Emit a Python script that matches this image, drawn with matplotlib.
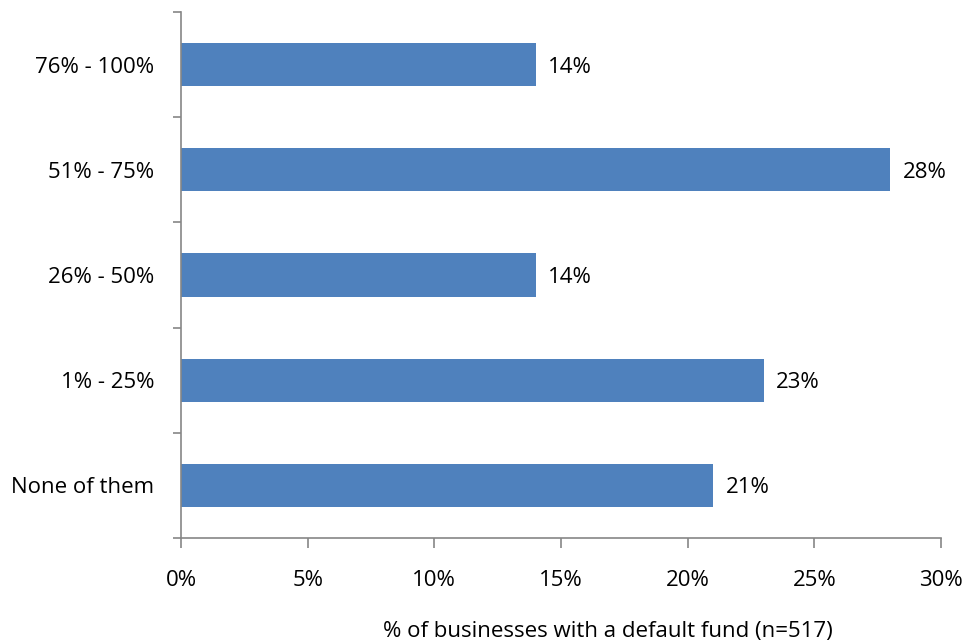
import matplotlib.pyplot as plt
from matplotlib.ticker import FixedLocator, PercentFormatter

# data (bottom to top)
categories = ["None of them", "1% - 25%", "26% - 50%", "51% - 75%", "76% - 100%"]
values = [21, 23, 14, 28, 14]

bar_color = "#4F81BD"
axis_color = "#868686"

plt.rcParams["font.family"] = ["Open Sans", "DejaVu Sans"]
fs = 16

fig = plt.figure(figsize=(9.7, 6.43), dpi=100)
ax = fig.add_axes([0.1866, 0.1633, 0.7835, 0.818])

y = list(range(len(categories)))
bars = ax.barh(y, values, height=0.41, color=bar_color)

# value labels to the right of each bar
for b, v in zip(bars, values):
    ax.text(b.get_width() + 0.5, b.get_y() + b.get_height() / 2, f"{v}%",
            va="center_baseline", ha="left", fontsize=fs)

ax.set_xlim(0, 30)
ax.set_ylim(-0.5, len(categories) - 0.5)
ax.set_xticks(range(0, 31, 5))
ax.xaxis.set_major_formatter(PercentFormatter(decimals=0))
ax.set_yticks(y)
ax.set_yticklabels(categories)
for t in ax.get_yticklabels():
    t.set_va("center_baseline")
ax.yaxis.set_minor_locator(FixedLocator([i - 0.5 for i in range(len(categories) + 1)]))

ax.tick_params(axis="y", which="major", length=0, pad=19, labelsize=fs)
ax.tick_params(axis="y", which="minor", length=6, color=axis_color, width=1.2)
ax.tick_params(axis="x", length=7, color=axis_color, width=1.2, pad=16, labelsize=fs)

for s in ["top", "right"]:
    ax.spines[s].set_visible(False)
for s in ["left", "bottom"]:
    ax.spines[s].set_color(axis_color)
    ax.spines[s].set_linewidth(1.2)

fig.text(608 / 970, 1 - 631 / 643, "% of businesses with a default fund (n=517)",
         ha="center", va="center", fontsize=fs)

fig.savefig("out.png", dpi=100)
